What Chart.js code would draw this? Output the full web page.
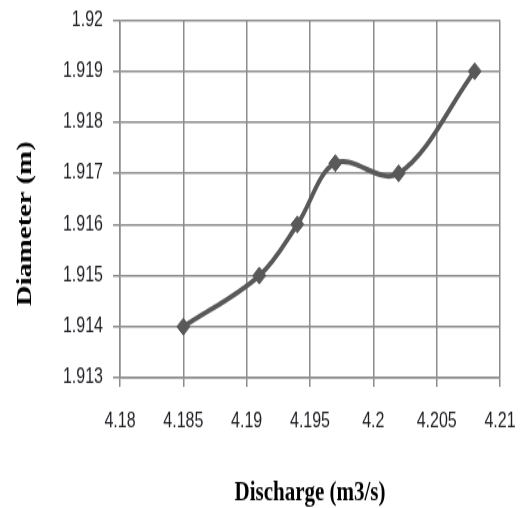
<!DOCTYPE html>
<html>
<head>
<meta charset="utf-8">
<script src="https://cdn.jsdelivr.net/npm/chart.js@4/dist/chart.umd.min.js"></script>
<style>
  html, body { margin: 0; padding: 0; background: #ffffff; }
  body { width: 523px; height: 508px; }
  /* the chart is drawn on a shorter canvas and stretched to full height */
  #wrap { position: relative; width: 523px; height: 390px; transform: scaleY(1.3026); transform-origin: 0 0; }
</style>
</head>
<body>
<div id="wrap"><canvas id="chart" width="523" height="390"></canvas></div>
<script>
// Measured discharge vs. pipe diameter
const discharge = [4.185, 4.191, 4.194, 4.197, 4.202, 4.208];
const diameter  = [1.914, 1.915, 1.916, 1.9172, 1.917, 1.919];

// Axis tick values and their printed labels
const xTickValues = [4.18, 4.185, 4.19, 4.195, 4.2, 4.205, 4.21];
const xTickLabels = ['4.18', '4.185', '4.19', '4.195', '4.2', '4.205', '4.21'];
const yTickValues = [1.913, 1.914, 1.915, 1.916, 1.917, 1.918, 1.919, 1.92];
const yTickLabels = ['1.913', '1.914', '1.915', '1.916', '1.917', '1.918', '1.919', '1.92'];

const points = discharge.map((x, i) => ({ x: x, y: diameter[i] }));

const tickFont = { family: "'Liberation Sans', Arial, sans-serif", size: 16 };
const titleFamily = "'Liberation Serif', 'Times New Roman', serif";
const gridColor = '#8c8c8c';
const seriesColor = '#595959';

// Shift the vertical axis title down a little below the plot's centre line
function offsetTitle(scale, dy) {
  if (scale._titleShifted) return;
  scale._titleShifted = true;
  const base = scale.drawTitle;
  scale.drawTitle = function () {
    const ctx = this.ctx;
    ctx.save();
    ctx.translate(0, dy);
    base.apply(this, arguments);
    ctx.restore();
  };
}

new Chart(document.getElementById('chart'), {
  type: 'scatter',
  data: {
    datasets: [{
      data: points,
      showLine: true,
      borderColor: seriesColor,
      backgroundColor: seriesColor,
      borderWidth: 4,
      tension: 0.35,
      pointStyle: 'rectRot',
      pointRadius: 6.5,
      pointHoverRadius: 6.5,
      pointBorderWidth: 1
    }]
  },
  options: {
    responsive: false,
    animation: false,
    layout: { padding: { top: 15.4, right: 23, bottom: 0, left: 0 } },
    plugins: {
      legend: { display: false },
      tooltip: { enabled: false }
    },
    scales: {
      x: {
        type: 'linear',
        min: 4.18,
        max: 4.21,
        afterBuildTicks: s => { s.ticks = xTickValues.map(v => ({ value: v })); },
        afterFit: s => { s.height = 100; s.paddingLeft = 0; s.paddingRight = 0; },
        border: { display: true, color: gridColor, width: 1.5 },
        grid: { color: gridColor, lineWidth: 1.5, tickLength: 7, drawTicks: true },
        ticks: {
          padding: 17,
          color: '#1e1e24',
          font: tickFont,
          maxRotation: 0,
          autoSkip: false,
          callback: (v, i) => xTickLabels[i]
        },
        title: {
          display: true,
          text: 'Discharge (m3/s)',
          color: '#000000',
          font: { family: titleFamily, size: 21, weight: 'bold' },
          padding: { top: 0, bottom: -1 }
        }
      },
      y: {
        type: 'linear',
        min: 1.913,
        max: 1.92,
        afterBuildTicks: s => { s.ticks = yTickValues.map(v => ({ value: v })); },
        afterFit: s => { s.width = 120; s.paddingTop = 0; s.paddingBottom = 0; offsetTitle(s, 19); },
        border: { display: true, color: gridColor, width: 1.5 },
        grid: { color: gridColor, lineWidth: 1.5, tickLength: 7, drawTicks: true },
        ticks: {
          padding: 10,
          color: '#1e1e24',
          font: tickFont,
          autoSkip: false,
          callback: (v, i) => yTickLabels[i]
        },
        title: {
          display: true,
          text: 'Diameter (m)',
          color: '#000000',
          font: { family: titleFamily, size: 22, weight: 'bold' },
          padding: { top: 12, bottom: 0 }
        }
      }
    }
  }
});
</script>
</body>
</html>
